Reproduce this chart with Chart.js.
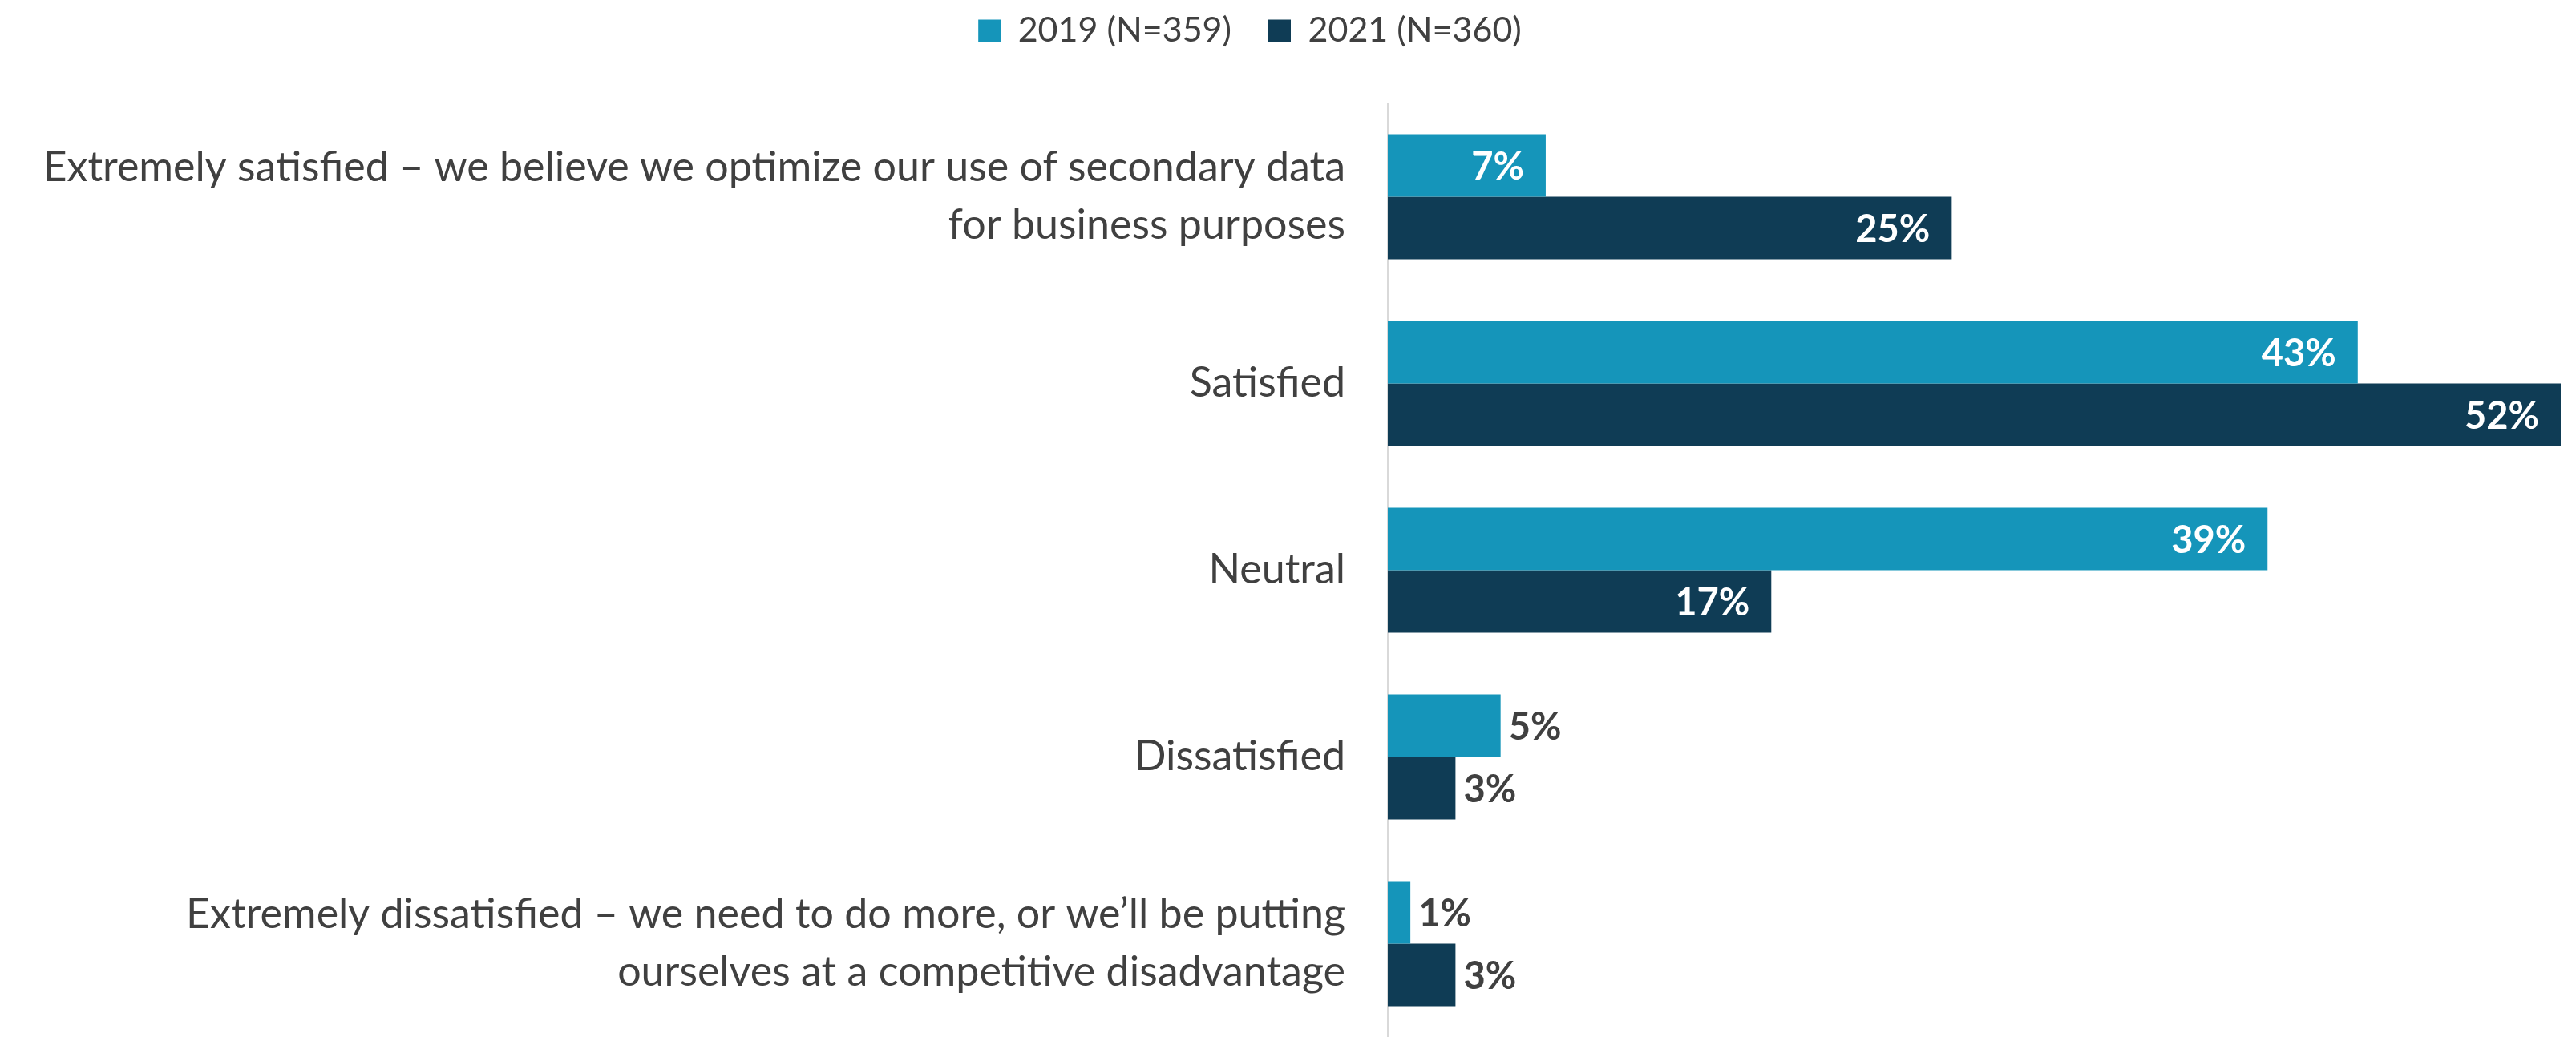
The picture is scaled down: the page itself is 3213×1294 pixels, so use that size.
<!DOCTYPE html>
<html lang="en">
<head>
  <meta charset="UTF-8" />
  <title>Satisfaction with use of secondary data</title>
  <script src="https://cdn.jsdelivr.net/npm/chart.js"></script>
  <style>
    html, body {
      margin: 0;
      padding: 0;
      background: #ffffff;
    }

    .chart-box {
      position: relative;
      width: 3213px;
      height: 1294px;
    }
  </style>
</head>
<body>
  <div class="chart-box"><canvas id="satChart"></canvas></div>

  <script>
    const categories = [
      ['Extremely satisfied – we believe we optimize our use of secondary data', 'for business purposes'],
      'Satisfied',
      'Neutral',
      'Dissatisfied',
      ['Extremely dissatisfied – we need to do more, or we’ll be putting', 'ourselves at a competitive disadvantage']
    ];
    const seriesNames = ['2019 (N=359)', '2021 (N=360)'];
    const values2019 = [7, 43, 39, 5, 1];
    const values2021 = [25, 52, 17, 3, 3];

    const textGray = '#404040';

    // labels at the bar end: inside (white) for long bars, outside (gray) for short ones
    const barLabels = {
      id: 'barLabels',
      afterDatasetsDraw(chart) {
        const ctx = chart.ctx;
        ctx.save();
        ctx.font = 'bold 47px Lato';
        ctx.textBaseline = 'middle';
        chart.data.datasets.forEach((ds, di) => {
          const meta = chart.getDatasetMeta(di);
          meta.data.forEach((bar, i) => {
            const v = ds.data[i];
            const txt = v + '%';
            if (v >= 7) {
              ctx.fillStyle = '#ffffff';
              ctx.textAlign = 'right';
              ctx.fillText(txt, bar.x - 27, bar.y + 2);
            } else {
              ctx.fillStyle = textGray;
              ctx.textAlign = 'left';
              ctx.fillText(txt, bar.x + 10, bar.y + 2);
            }
          });
        });
        ctx.restore();
      }
    };

    // fixed legend band height and slight left shift like the original
    const legendTweak = {
      id: 'legendTweak',
      beforeInit(chart) {
        const lg = chart.legend;
        const fit = lg.fit;
        lg.fit = function () {
          fit.call(this);
          this.height = 129;
        };
      },
      afterLayout(chart) {
        const lg = chart.legend;
        lg.left -= 38;
        lg.right -= 38;
        lg.top = -29;
      }
    };

    new Chart(document.getElementById('satChart').getContext('2d'), {
      type: 'bar',
      data: {
        labels: categories,
        datasets: [
          {
            label: seriesNames[0],
            data: values2019,
            backgroundColor: '#1595BA',
            categoryPercentage: 0.67,
            barPercentage: 1
          },
          {
            label: seriesNames[1],
            data: values2021,
            backgroundColor: '#0F3C55',
            categoryPercentage: 0.67,
            barPercentage: 1
          }
        ]
      },
      options: {
        indexAxis: 'y',
        responsive: true,
        maintainAspectRatio: false,
        animation: false,
        layout: {
          padding: { left: 0, right: 19, top: 0, bottom: -12 }
        },
        plugins: {
          legend: {
            position: 'top',
            labels: {
              boxWidth: 28,
              boxHeight: 28,
              padding: 46,
              color: textGray,
              font: { family: 'Lato', size: 43 }
            }
          },
          tooltip: { enabled: false }
        },
        scales: {
          x: {
            display: false,
            min: 0,
            max: 52
          },
          y: {
            afterFit(scale) {
              scale.width = 1731;
              scale.paddingTop = 0;
              scale.paddingBottom = 0;
            },
            grid: { display: false, drawTicks: false },
            border: { display: true, color: '#D9D9D9', width: 3 },
            ticks: {
              padding: 53,
              color: textGray,
              font: { family: 'Lato', size: 52, lineHeight: 1.38 }
            }
          }
        }
      },
      plugins: [barLabels, legendTweak]
    });
  </script>
</body>
</html>
